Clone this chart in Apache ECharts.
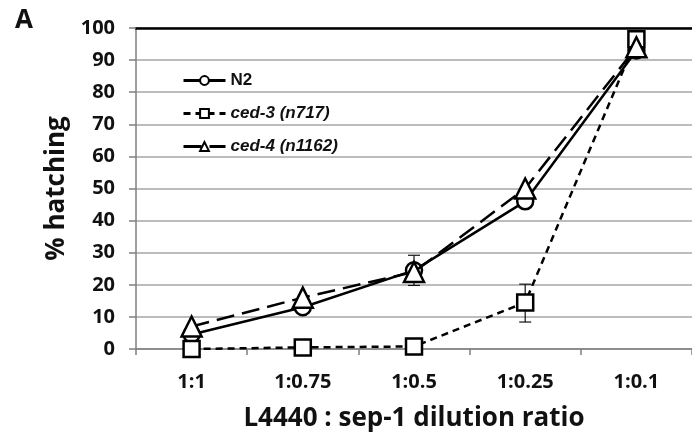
<!DOCTYPE html>
<html>
<head>
<meta charset="utf-8">
<script src="https://cdn.jsdelivr.net/npm/echarts@6/dist/echarts.min.js"></script>
<style>
  html, body { margin: 0; padding: 0; background: #fff; }
  #chart { width: 692px; height: 439px; }
</style>
</head>
<body>
<div id="chart"></div>
<script>
// Dilution ratios of L4440 : sep-1 RNAi
const categories = ['1:1', '1:0.75', '1:0.5', '1:0.25', '1:0.1'];

// Percent hatching per strain
const n2Values = [4.5, 13, 24.5, 46, 93];
const ced3Values = [0, 0.5, 0.8, 14.5, 96.5];
const ced4Values = [7, 16, 24, 50, 94];

// Error bars: [category index, low, high]
const ced4Errors = [[2, 19.8, 29.2]];
const ced3Errors = [[3, 8.4, 20.2]];

const yTicks = [0, 10, 20, 30, 40, 50, 60, 70, 80, 90, 100];

const chart = echarts.init(document.getElementById('chart'));

const axisFont = '"Open Sans", "Liberation Sans", Arial, sans-serif';
const legendFont = '"Liberation Sans", Arial, sans-serif';

function errorBarSeries(data, z) {
  return {
    type: 'custom',
    z: z,
    silent: true,
    data: data,
    renderItem: function (params, api) {
      const x = api.value(0);
      const lo = api.coord([x, api.value(1)]);
      const hi = api.coord([x, api.value(2)]);
      const cap = 6;
      const style = { stroke: '#111', lineWidth: 1.2 };
      return {
        type: 'group',
        children: [
          { type: 'line', shape: { x1: lo[0], y1: lo[1], x2: hi[0], y2: hi[1] }, style: style },
          { type: 'line', shape: { x1: hi[0] - cap, y1: hi[1], x2: hi[0] + cap, y2: hi[1] }, style: style },
          { type: 'line', shape: { x1: lo[0] - cap, y1: lo[1], x2: lo[0] + cap, y2: lo[1] }, style: style }
        ]
      };
    }
  };
}

const markerStyle = { color: '#fff', borderColor: '#000', borderWidth: 2.5 };

chart.setOption({
  animation: false,
  backgroundColor: '#fff',
  title: {
    text: 'A',
    left: 10,
    top: 3,
    textStyle: { fontFamily: axisFont, fontWeight: 'bold', fontSize: 26, color: '#111' }
  },
  legend: {
    orient: 'vertical',
    left: 182,
    top: 72,
    padding: 0,
    itemWidth: 42,
    itemHeight: 11,
    itemGap: 16,
    data: ['N2', 'ced-3 (n717)', 'ced-4 (n1162)'],
    formatter: function (name) {
      return name === 'N2' ? '{b|' + name + '}' : '{i|' + name + '}';
    },
    lineStyle: { width: 3 },
    textStyle: {
      fontFamily: legendFont,
      fontWeight: 'bold',
      fontSize: 17,
      color: '#111',
      rich: {
        b: { fontFamily: legendFont, fontWeight: 'bold', fontSize: 17, color: '#111' },
        i: { fontFamily: legendFont, fontStyle: 'italic', fontWeight: 'bold', fontSize: 17, color: '#111' }
      }
    }
  },
  grid: { left: 136, top: 28, width: 560, height: 321, containLabel: false },
  xAxis: [
    {
      type: 'category',
      data: categories,
      boundaryGap: true,
      name: 'L4440 : sep-1 dilution ratio',
      nameLocation: 'middle',
      nameGap: 57,
      nameTextStyle: { fontFamily: axisFont, fontWeight: 'bold', fontSize: 26, color: '#111' },
      axisLine: { lineStyle: { color: '#7f7f7f', width: 1.5 } },
      axisTick: { show: true, length: 6, alignWithLabel: false, lineStyle: { color: '#7f7f7f', width: 1.5 } },
      axisLabel: { margin: 23, fontFamily: axisFont, fontWeight: 'bold', fontSize: 20, color: '#111' },
      splitLine: { show: false }
    },
    {
      type: 'category',
      data: categories,
      position: 'top',
      boundaryGap: true,
      axisLine: { lineStyle: { color: '#000', width: 2.5 } },
      axisTick: { show: false },
      axisLabel: { show: false }
    }
  ],
  yAxis: {
    type: 'value',
    min: 0,
    max: 100,
    interval: 10,
    name: '% hatching',
    nameLocation: 'middle',
    nameGap: 58,
    nameTextStyle: { fontFamily: axisFont, fontWeight: 'bold', fontSize: 26, color: '#111' },
    axisLine: { show: true, lineStyle: { color: '#7f7f7f', width: 1.5 } },
    axisTick: { show: true, length: 7, lineStyle: { color: '#7f7f7f', width: 1.5 } },
    axisLabel: {
      margin: 21,
      fontFamily: axisFont,
      fontWeight: 'bold',
      fontSize: 20,
      color: '#111',
      formatter: function (v) { return yTicks.indexOf(v) >= 0 ? String(v) : ''; }
    },
    splitLine: { show: true, lineStyle: { color: '#a6a6a6', width: 1.5 } }
  },
  series: [
    {
      name: 'N2',
      type: 'line',
      data: n2Values,
      z: 3,
      symbol: 'circle',
      symbolSize: 16,
      lineStyle: { color: '#000', width: 2.5, type: 'solid' },
      itemStyle: markerStyle
    },
    {
      name: 'ced-3 (n717)',
      type: 'line',
      data: ced3Values,
      z: 4,
      symbol: 'rect',
      symbolSize: 16,
      lineStyle: { color: '#000', width: 2.5, type: [7, 5] },
      itemStyle: markerStyle
    },
    {
      name: 'ced-4 (n1162)',
      type: 'line',
      data: ced4Values,
      z: 5,
      symbol: 'triangle',
      symbolSize: 20,
      lineStyle: { color: '#000', width: 2.5, type: [18, 8] },
      itemStyle: markerStyle
    },
    errorBarSeries(ced4Errors, 2),
    errorBarSeries(ced3Errors, 2)
  ]
});
</script>
</body>
</html>
